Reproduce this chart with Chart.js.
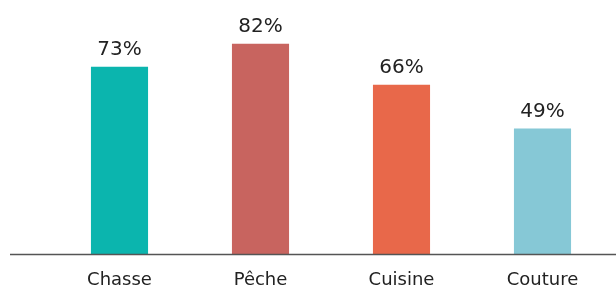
<!DOCTYPE html>
<html>
<head>
<meta charset="utf-8">
<script src="https://cdn.jsdelivr.net/npm/chart.js@4"></script>
<style>
  html, body { margin: 0; padding: 0; background: #fff; }
  #wrap { width: 616px; height: 288px; position: relative; }
</style>
</head>
<body>
<div id="wrap"><canvas id="chart"></canvas></div>
<script>
// data
const categories = ['Chasse', 'Pêche', 'Cuisine', 'Couture'];
const values = [73, 82, 66, 49];
const barColors = ['#0bb5ae', '#c8645f', '#e8684a', '#86c8d6'];

// value labels over each bar + the long baseline
const barLabels = {
  id: 'barLabels',
  afterDatasetsDraw(chart) {
    const ctx = chart.ctx;
    const meta = chart.getDatasetMeta(0);
    ctx.save();
    ctx.font = '20px "DejaVu Sans", sans-serif';
    ctx.fillStyle = '#222';
    ctx.textAlign = 'center';
    ctx.textBaseline = 'alphabetic';
    meta.data.forEach((bar, i) => {
      ctx.fillText(values[i] + '%', bar.x, bar.y - 12);
    });
    // baseline runs nearly the full width
    const y = chart.scales.y.getPixelForValue(0);
    ctx.strokeStyle = '#555';
    ctx.lineWidth = 1.5;
    ctx.beginPath();
    ctx.moveTo(10, y);
    ctx.lineTo(chart.width, y);
    ctx.stroke();
    ctx.restore();
  }
};

new Chart(document.getElementById('chart'), {
  type: 'bar',
  data: {
    labels: categories,
    datasets: [{
      data: values,
      backgroundColor: barColors,
      borderWidth: 0,
      barPercentage: 0.405,
      categoryPercentage: 1
    }]
  },
  options: {
    responsive: true,
    maintainAspectRatio: false,
    animation: false,
    layout: { padding: { left: 49, right: 3, top: 0, bottom: 0 } },
    plugins: {
      legend: { display: false },
      tooltip: { enabled: false }
    },
    scales: {
      x: {
        grid: { display: false },
        border: { display: false },
        ticks: {
          color: '#222',
          font: { size: 18, family: '"DejaVu Sans", sans-serif' },
          padding: 7
        },
        afterFit(scale) { scale.height = 33.5; }
      },
      y: {
        display: false,
        min: 0,
        max: 99
      }
    }
  },
  plugins: [barLabels]
});
</script>
</body>
</html>
